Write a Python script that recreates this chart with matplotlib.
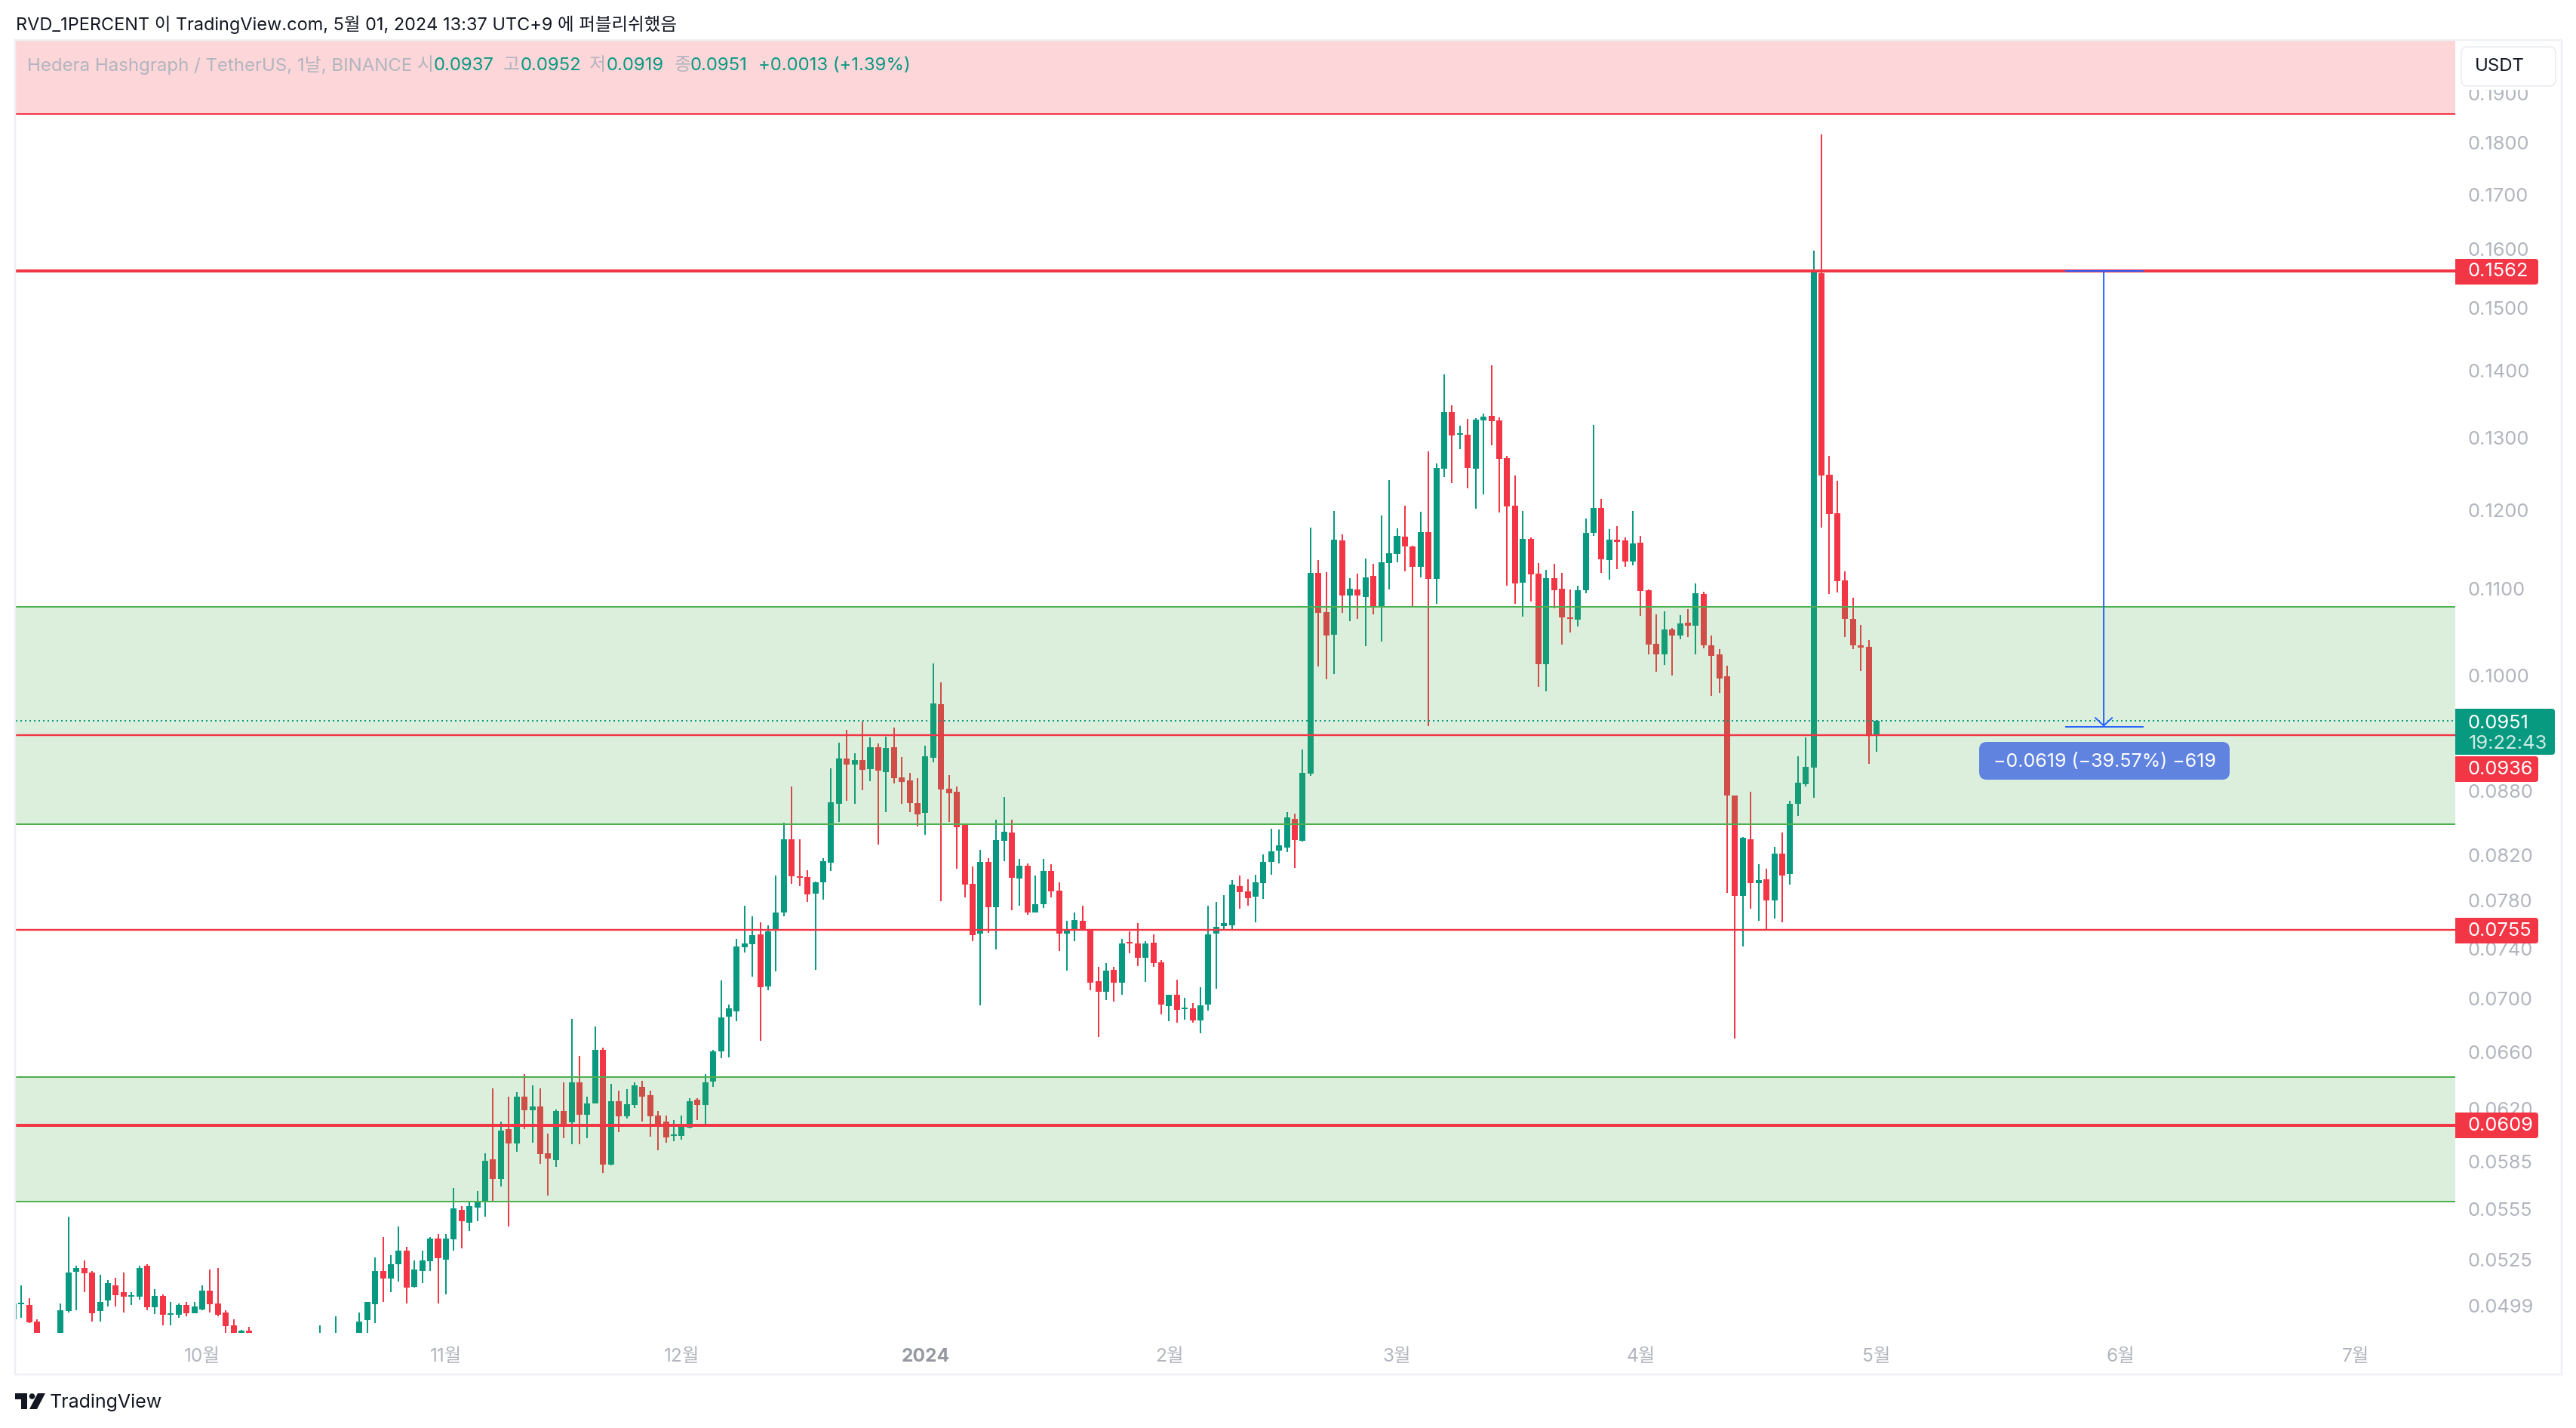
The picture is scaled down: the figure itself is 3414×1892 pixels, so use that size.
import matplotlib
matplotlib.use("Agg")
import matplotlib.dates as mdates
import matplotlib.pyplot as plt
import numpy as np
import pandas as pd
from matplotlib.patches import Circle, FancyBboxPatch, Polygon, Rectangle
from matplotlib.ticker import NullLocator
from matplotlib.transforms import IdentityTransform

plt.rcParams["font.family"] = ["Inter", "Noto Sans CJK KR", "DejaVu Sans"]

nan = float("nan")

# daily candles from 2023-09-07, nan where the candle sits below the visible pane
opens = [
    .04917, .04996, .04992, .04901, nan, nan, .0478, .04959, .05178, .0520,
    .05174, .04959, .05017, .05101, .05063, .05038, .05038, .05213, .04979, .05042,
    .04938, .04938, .04992, .04946, .04967, .05071, .05, .0495, .04881, .0480,
    .04852, nan, nan, nan, nan, nan, nan, nan, nan, .0476,
    nan, .0477, nan, nan, .0478, .04909, .04996, .05182, .05139, .05225,
    .0530, .05096, .05186, .05239, .05371, .05247, .05367, .05544, .05466, .05558,
    .0559, .05862, .05736, .0606, .05965, .06281, .06188, .06214, .05901, .05857,
    .06183, .06106, .06381, .06157, .06234, .06614, .05828, .0625, .06147, .06224,
    .0635, .06292, .06152, .06111, .06015, .06015, .06075, .0626, .06224, .06387,
    .06608, .06866, .06904, .0741, .07437, .07515, .07093, .07549, .07696, .08346,
    .08013, .08006, .07862, .07961, .08135, .0868, .09125, .09065, .09108, .09019,
    .09239, .0899, .09239, .08937, .08908, .08688, .08593, .09133, .0969, .08826,
    .08798, .08481, .07946, .07521, .0814, .07743, .08334, .08411, .07994, .08106,
    .077, .07771, .08061, .07887, .07521, .07549, .07629, .07549, .07138, .07055,
    .07228, .07125, .07454, .07441, .07325, .07448, .07288, .06945, .07032, .0692,
    .06926, .06834, .06958, .07521, .07584, .07591, .07928, .07881, .07837, .07954,
    .0814, .08242, .08273, .08538, .08335, .08976, .1120, .10726, .10461, .11609,
    .10924, .10998, .10906, .11163, .10788, .11321, .11437, .11657, .11532, .11274,
    .11715, .11127, .12565, .13373, .13045, .13045, .12565, .13252, .13317, .13252,
    .12711, .12063, .11081, .11629, .11191, .10128, .11136, .11007, .10664, .10638,
    .10989, .11705, .12033, .1136, .11619, .11609, .11341, .1158, .10989, .10357,
    .10238, .10523, .10453, .10603, .10567, .10943, .1034, .10238, .09992, .0876,
    .07843, .08348, .07955, .07988, .07803, .08218, .08034, .08682, .08871, .09036,
    .15585, .12481, .11963, .11108, .10647, .1034, .10323, .0937,
]
highs = [
    .05, .05101, .05033, .04913, nan, nan, .05, .05502, .05213, .05243,
    .05182, .05161, .05131, .05144, .05174, .05063, .05213, .05221, .0508, .0505,
    .05012, .05, .05012, .05012, .05101, .05191, .0520, .04963, .04913, .0486,
    .04873, nan, nan, nan, nan, nan, nan, nan, nan, .04881,
    nan, .0493, nan, nan, .0495, .05012, .05261, .0538, .05274, .05443,
    .05322, .05243, .0530, .0538, .05402, .05402, .05679, .05571, .0559, .0566,
    .05901, .06339, .06111, .06281, .06313, .0644, .0636, .06339, .0603, .06193,
    .06381, .06844, .0657, .06281, .06792, .06631, .06371, .06323, .06334, .06381,
    .06392, .06323, .06183, .06152, .06121, .06152, .06271, .06271, .0644, .06619,
    .07141, .06953, .07478, .07757, .07666, .07614, .07589, .0802, .08501, .08847,
    .08346, .08068, .07968, .08174, .09028, .09286, .09417, .09179, .09505, .09339,
    .09278, .09347, .09442, .09141, .08982, .08929, .09256, .10134, .09926, .08958,
    .08847, .08481, .08102, .0825, .08174, .0853, .08745, .0853, .08169, .08129,
    .0802, .08169, .08121, .07961, .07629, .077, .07757, .07549, .07251, .07281,
    .07251, .07478, .07541, .07611, .07459, .07517, .07305, .07032, .0715, .07007,
    .06967, .07089, .07757, .0779, .07848, .0798, .0802, .07987, .08027, .08208,
    .08446, .08438, .08603, .08589, .09217, .11773, .1136, .11209, .11993, .11686,
    .11136, .11191, .11379, .11312, .11933, .12409, .11763, .12063, .11542, .11983,
    .12806, .12638, .13941, .13475, .13176, .13274, .13284, .1335, .14083, .13295,
    .12742, .12471, .11993, .11648, .11321, .11237, .11312, .1120, .10998, .11044,
    .11893, .13187, .12153, .11753, .11793, .11648, .11993, .11667, .10998, .107,
    .10735, .10541, .10691, .10761, .11071, .10971, .10453, .10297, .10111, .0876,
    .08369, .08796, .08121, .0808, .0828, .0841, .0871, .09148, .09342, .15979,
    .18166, .12742, .12398, .11219, .10897, .10576, .104, .0952,
]
lows = [
    .04917, .04922, .04893, .0478, nan, nan, .0475, .0495, .04963, .05063,
    .04901, .04901, .04983, .04983, .0495, .04992, .05021, .04963, .04942, .04881,
    .04881, .04922, .0493, .04946, .04963, .0495, .0493, .0482, .0478, .0477,
    .0478, nan, nan, nan, nan, nan, nan, nan, nan, .0474,
    nan, .0475, nan, nan, .0476, .0482, .04893, .05012, .05063, .05122,
    .0500, .05092, .05114, .05182, .0500, .0505, .0530, .05313, .0542, .05479,
    .05502, .05595, .05693, .05443, .05911, .0606, .0597, .05833, .05632, .05813,
    .0600, .0596, .0596, .0600, .06234, .05779, .05824, .0604, .06131, .06203,
    .06111, .0601, .05921, .0597, .0598, .0599, .0607, .06121, .06096, .0635,
    .06554, .06559, .0683, .07368, .0717, .0668, .07068, .07213, .0767, .07946,
    .07928, .0779, .07228, .07808, .08061, .08509, .08708, .0868, .08813, .089,
    .08299, .08601, .08878, .0868, .08601, .08466, .08388, .09087, .07797, .08509,
    .0808, .07829, .07459, .06949, .07528, .07393, .08148, .07719, .07757, .0768,
    .077, .07739, .07829, .0738, .07221, .07459, .07549, .07068, .06711, .0699,
    .06978, .07032, .07362, .07258, .07131, .07251, .06881, .0683, .06818, .0684,
    .06818, .06739, .0691, .07078, .07553, .07553, .07733, .07757, .07616, .07816,
    .08027, .08129, .08232, .08087, .08328, .08953, .10102, .09958, .10017, .10717,
    .1062, .10647, .10331, .107, .10382, .10998, .11331, .11219, .10797, .11145,
    .09458, .10823, .12451, .12367, .12838, .12294, .12023, .12213, .12893, .11973,
    .11044, .10823, .10673, .10851, .09877, .09828, .1077, .10348, .10488, .10558,
    .10953, .11667, .1120, .11117, .11246, .11274, .11293, .10682, .10238, .10043,
    .10119, .1, .10409, .10435, .10238, .10306, .09779, .09812, .07869, .06701,
    .07417, .07732, .07631, .07561, .0765, .07618, .07942, .08567, .08849, .08739,
    .11773, .10943, .10962, .10435, .10297, .10051, .09073, .0919,
]
closes = [
    .05, .05004, .04897, .0482, nan, nan, .04963, .05174, .0520, .05169,
    .04946, .05012, .05114, .05046, .05038, .05046, .0520, .04979, .05042, .04938,
    .04946, .04992, .04946, .04983, .05071, .04996, .04938, .04877, .0480, .04852,
    .0481, nan, nan, nan, nan, nan, nan, nan, nan, .0480,
    nan, .0481, nan, nan, .04901, .05012, .05182, .05139, .05221, .0530,
    .05088, .05191, .05243, .05371, .05256, .05371, .05553, .05475, .05571, .0559,
    .05852, .05736, .0605, .05965, .06281, .06188, .06214, .05896, .05867, .06183,
    .06091, .06381, .06157, .06239, .06614, .05828, .0625, .06147, .06229, .0636,
    .06286, .06147, .06091, .06005, .06025, .06081, .0625, .06224, .06381, .06603,
    .0686, .06924, .07417, .07441, .07508, .07087, .07541, .077, .08346, .08013,
    .08, .07855, .07961, .08148, .08696, .09125, .09065, .09108, .09011, .09239,
    .09003, .09231, .08929, .08892, .08688, .0858, .09146, .09695, .08818, .08782,
    .0846, .07939, .0751, .0814, .07743, .08341, .08416, .08, .08106, .077,
    .07771, .08061, .07881, .07521, .07549, .07636, .07549, .07125, .07055, .07221,
    .07125, .07441, .07441, .07325, .07441, .07281, .06958, .07032, .06916, .06933,
    .06834, .06949, .07517, .07579, .07611, .07939, .07874, .07822, .07961, .0814,
    .08238, .08292, .08553, .08342, .08983, .1120, .10717, .10453, .11619, .10924,
    .11007, .10924, .11145, .10788, .11331, .11446, .11667, .11532, .11274, .11715,
    .11127, .12576, .13373, .13034, .13067, .12576, .13263, .13306, .13241, .12701,
    .12053, .11071, .11629, .11182, .10128, .11136, .10989, .10664, .10647, .10989,
    .11705, .12033, .11369, .11619, .1159, .11341, .11571, .1098, .10348, .10238,
    .10523, .10453, .10594, .10567, .10953, .1034, .10221, .09966, .0876, .07843,
    .08362, .07955, .07981, .07803, .08218, .08021, .08682, .08886, .09043, .15612,
    .12471, .11953, .11099, .10647, .1034, .10314, .09373, .0951,
]

price_ticks = [0.19, 0.18, 0.17, 0.16, 0.15, 0.14, 0.13, 0.12, 0.11, 0.10, 0.088,
               0.082, 0.078, 0.074, 0.07, 0.066, 0.062, 0.0585, 0.0555, 0.0525, 0.0499]
price_labels = ["0.1900", "0.1800", "0.1700", "0.1600", "0.1500", "0.1400", "0.1300",
                "0.1200", "0.1100", "0.1000", "0.0880", "0.0820", "0.0780", "0.0740",
                "0.0700", "0.0660", "0.0620", "0.0585", "0.0555", "0.0525", "0.0499"]
month_ticks = ["2023-10-01", "2023-11-01", "2023-12-01", "2024-01-01", "2024-02-01",
               "2024-03-01", "2024-04-01", "2024-05-01", "2024-06-01", "2024-07-01"]
month_labels = ["10월", "11월", "12월", "2024", "2월", "3월", "4월", "5월", "6월", "7월"]

green_zones = [(0.0849, 0.10785), (0.05596, 0.0642)]
pink_bottom = 0.1858
thick_levels = [0.1562, 0.0609]
thin_levels = [0.0936, 0.0755]
last_close = 0.0951
measure_from = 0.1562
measure_to = 0.0945

UP = "#089981"
DOWN = "#F23645"
ZONE = "#4CAF50"
BLUE = "#2962FF"
GREY = "#B2B5BE"
DARK = "#131722"

W, H = 3414, 1892
LEFT, RIGHT, TOP, BOTTOM = 21, 3254, 54, 1766
PX = 0.72  # points per pixel at dpi 100


def px(x, y):
    return (x, H - y)


def rounded(ax_fig, x0, y0, x1, y1, color, radius=4, edge="none", z=5, lw=0):
    p = FancyBboxPatch(px(x0, y1), x1 - x0, y1 - y0,
                       boxstyle=f"round,pad=0,rounding_size={radius}",
                       fc=color, ec=edge, lw=lw, transform=IdentityTransform(), zorder=z)
    ax_fig.add_artist(p)


fig = plt.figure(figsize=(W / 100, H / 100), dpi=100, facecolor="white")
ax = fig.add_axes([LEFT / W, 1 - BOTTOM / H, (RIGHT - LEFT) / W, (BOTTOM - TOP) / H])
ax.set_yscale("log")

y_per_px = 1 / 1201
ax.set_ylim(0.18 * np.exp(-(BOTTOM - 189) * y_per_px), 0.18 * np.exp((189 - TOP) * y_per_px))

days = mdates.date2num(pd.date_range("2023-09-07", periods=len(opens)))
may1 = days[-1]
ax.set_xlim(may1 + (LEFT - 2487) / 10.418, may1 + (RIGHT - 2487) / 10.418)

o, h, l, c = map(np.array, (opens, highs, lows, closes))
up = c >= o
colors = np.where(up, UP, DOWN)
ok = ~np.isnan(o)

ax.vlines(days[ok], l[ok], h[ok], colors=colors[ok], lw=2 * PX, zorder=2)
ax.bar(days[ok], np.abs(c - o)[ok], bottom=np.minimum(o, c)[ok], width=0.77,
       color=colors[ok], lw=0, zorder=2)

# zones go over the candles, that is why candles look washed out inside them
ax.axhspan(pink_bottom, ax.get_ylim()[1], color=DOWN, alpha=0.2, lw=0, zorder=3)
ax.axhline(pink_bottom, color=DOWN, lw=2 * PX, zorder=4)
for lo, hi in green_zones:
    ax.axhspan(lo, hi, color=ZONE, alpha=0.2, lw=0, zorder=3)
    ax.axhline(lo, color=ZONE, lw=2 * PX, zorder=4)
    ax.axhline(hi, color=ZONE, lw=2 * PX, zorder=4)
for lvl in thick_levels:
    ax.axhline(lvl, color=DOWN, lw=4 * PX, zorder=4)
for lvl in thin_levels:
    ax.axhline(lvl, color=DOWN, lw=2.4 * PX, zorder=4)
ax.axhline(last_close, color=UP, lw=2 * PX, ls=(0, (1, 2)), zorder=3.5)

# price range tool
m0, m1, m2 = may1 + 24, may1 + 28.9, may1 + 34
ax.plot([m0, m2], [measure_from, measure_from], color=BLUE, lw=2 * PX, zorder=5, solid_capstyle="butt")
ax.plot([m0, m2], [measure_to, measure_to], color=BLUE, lw=2 * PX, zorder=5, solid_capstyle="butt")
ax.annotate("", xy=(m1, measure_to), xytext=(m1, measure_from), zorder=5,
            arrowprops=dict(arrowstyle="->,head_length=7.5,head_width=8", mutation_scale=1,
                            color=BLUE, lw=2 * PX, shrinkA=0, shrinkB=0))

for s in ax.spines.values():
    s.set_visible(False)
ax.patch.set_alpha(0)

ax.yaxis.tick_right()
ax.set_yticks(price_ticks, price_labels)
ax.yaxis.set_minor_locator(NullLocator())
ax.tick_params(axis="y", length=0, pad=17 * PX, labelsize=25.5 * PX, labelcolor=GREY)

ax.set_xticks(mdates.date2num(pd.to_datetime(month_ticks)), month_labels)
ax.tick_params(axis="x", length=0, pad=20 * PX, labelsize=24.5 * PX, labelcolor=GREY)
for t in ax.get_xticklabels():
    if t.get_text() == "2024":
        t.set_fontweight("bold")
        t.set_color("#9598A1")

# outer frame
fig.add_artist(Rectangle(px(20, 1821), 3375, 1821 - 53, fc="none", ec="#EEF0F5", lw=2.5 * PX,
                         transform=IdentityTransform(), zorder=1))

# currency button hides the top of the first tick label
fig.add_artist(Rectangle(px(3262, 119), 125, 10, fc="white", lw=0, transform=IdentityTransform(), zorder=4))
rounded(fig, 3262, 62, 3387, 114, "white", radius=8, edge="#E8EAF0", lw=1.5 * PX)
fig.text(3313 / W, 1 - 88 / H, "USDT", color=DARK, fontsize=24 * PX, ha="center", va="center", zorder=6)

# price tags
for label, yc in [("0.1562", 360), ("0.0936", 1019), ("0.0755", 1233), ("0.0609", 1491)]:
    fig.add_artist(Rectangle(px(RIGHT, yc + 17), 10, 34, fc=DOWN, lw=0, transform=IdentityTransform(), zorder=5))
    rounded(fig, RIGHT, yc - 17, 3364, yc + 17, DOWN)
    fig.text(3271 / W, 1 - yc / H, label, color="white", fontsize=25.5 * PX, va="center", zorder=6)
fig.add_artist(Rectangle(px(RIGHT, 1000), 10, 61, fc=UP, lw=0, transform=IdentityTransform(), zorder=5))
rounded(fig, RIGHT, 939, 3386, 1000, UP)
fig.text(3271 / W, 1 - 958.5 / H, "0.0951", color="white", fontsize=25.5 * PX, va="center", zorder=6)
fig.text(3272 / W, 1 - 985.5 / H, "19:22:43", color="#CFEBE5", fontsize=25.5 * PX, va="center", zorder=6)

# measure label
rounded(fig, 2623, 983, 2955, 1033, "#6083DF", radius=10)
fig.text(2789 / W, 1 - 1009 / H, "\u22120.0619 (\u221239.57%) \u2212619", color="white",
         fontsize=25 * PX, ha="center", va="center", zorder=6)

# header and legend
fig.text(21 / W, 1 - 33 / H, "RVD_1PERCENT 이 TradingView.com, 5월 01, 2024 13:37 UTC+9 에 퍼블리쉬했음",
         color=DARK, fontsize=23.5 * PX, va="center")
legend_parts = [
    (36, "Hedera Hashgraph / TetherUS, 1날, BINANCE", GREY), (553, "시", GREY), (575, "0.0937", UP),
    (667, "고", GREY), (690, "0.0952", UP), (781, "저", GREY), (804, "0.0919", UP),
    (894, "종", GREY), (915, "0.0951", UP), (1005, "+0.0013 (+1.39%)", UP),
]
for x, s, col in legend_parts:
    fig.text(x / W, 1 - 87 / H, s, color=col, fontsize=24 * PX, va="center")

# TradingView logo
fig.add_artist(Polygon([px(20, 1846), px(36, 1846), px(36, 1867), px(28, 1867), px(28, 1854), px(20, 1854)],
                       fc=DARK, lw=0, transform=IdentityTransform()))
fig.add_artist(Circle(px(42.5, 1850), 3.8, fc=DARK, lw=0, transform=IdentityTransform()))
fig.add_artist(Polygon([px(50, 1846), px(60, 1846), px(49, 1867), px(39, 1867)],
                       fc=DARK, lw=0, transform=IdentityTransform()))
fig.text(66 / W, 1 - 1858 / H, "TradingView", color=DARK, fontsize=25 * PX, va="center")

fig.savefig("out.png", dpi=100)
